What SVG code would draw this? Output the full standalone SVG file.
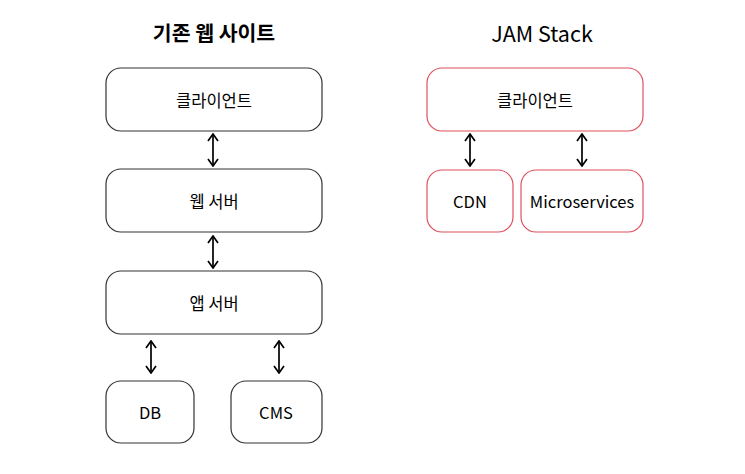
<svg xmlns="http://www.w3.org/2000/svg" width="745" height="474" viewBox="0 0 745 474">
<defs>
<style>
.bx{fill:#fff;stroke:#333;stroke-width:1.2}
.rb{fill:#fff;stroke:#e0505f;stroke-width:1.2}
.t{font-family:"Noto Sans CJK KR","Noto Sans",sans-serif;font-size:16.5px;font-weight:400;fill:#000;text-anchor:middle;dominant-baseline:central}
.h{font-family:"Noto Sans CJK KR","Noto Sans",sans-serif;font-size:20.5px;font-weight:bold;fill:#000;text-anchor:middle;dominant-baseline:central}
.c{stroke:#000;stroke-width:1.7;fill:none;marker-start:url(#a);marker-end:url(#a)}
</style>
<marker id="a" viewBox="0 0 10 12" refX="9" refY="6" markerWidth="10" markerHeight="12" markerUnits="userSpaceOnUse" orient="auto-start-reverse">
<path d="M2,1 L9,6 L2,11" fill="none" stroke="#000" stroke-width="1.7"/>
</marker>
</defs>
<rect width="745" height="474" fill="#fff"/>
<text class="h" x="214" y="32">기존 웹 사이트</text>
<text class="h" x="542" y="32" style="font-weight:400;font-size:21.5px">JAM Stack</text>
<g id="connectors">
<line class="c" x1="213" y1="134" x2="213" y2="166"/>
<line class="c" x1="213" y1="236" x2="213" y2="268"/>
<line class="c" x1="151" y1="341" x2="151" y2="373"/>
<line class="c" x1="279" y1="341" x2="279" y2="373"/>
<line class="c" x1="470" y1="134" x2="470" y2="166"/>
<line class="c" x1="582" y1="134" x2="582" y2="166"/>
</g>
<g id="client1"><rect class="bx" x="106" y="68" width="216" height="63" rx="15"/><text class="t" x="214" y="100">클라이언트</text></g>
<g id="webserver"><rect class="bx" x="106" y="169" width="216" height="63" rx="15"/><text class="t" x="214" y="201">웹 서버</text></g>
<g id="appserver"><rect class="bx" x="106" y="271" width="216" height="63" rx="15"/><text class="t" x="214" y="303">앱 서버</text></g>
<g id="db"><rect class="bx" x="106" y="381" width="88" height="62" rx="15"/><text class="t" x="150" y="412">DB</text></g>
<g id="cms"><rect class="bx" x="231" y="381" width="91" height="62" rx="15"/><text class="t" x="276" y="412">CMS</text></g>
<g id="client2"><rect class="rb" x="427" y="68" width="216" height="63" rx="15"/><text class="t" x="535" y="100">클라이언트</text></g>
<g id="cdn"><rect class="rb" x="427" y="170" width="86" height="62" rx="15"/><text class="t" x="470" y="201">CDN</text></g>
<g id="micro"><rect class="rb" x="521" y="170" width="122" height="62" rx="15"/><text class="t" x="582" y="201">Microservices</text></g>
</svg>
